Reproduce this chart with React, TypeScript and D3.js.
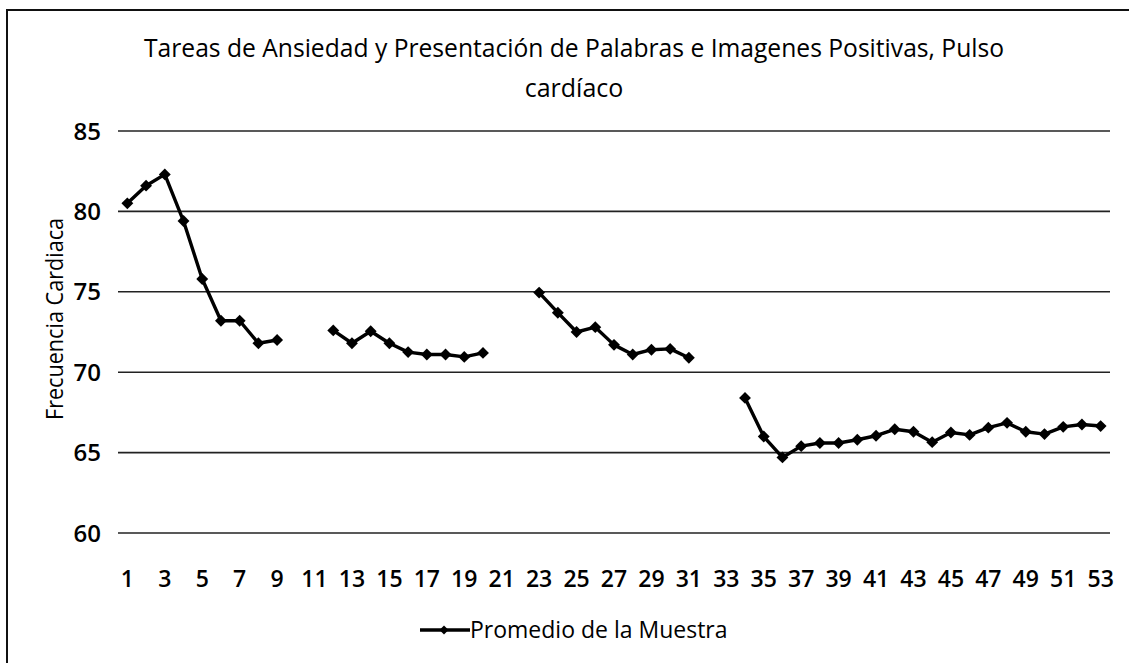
import * as d3 from "d3";

// muestras 1..53, null = sin dato (huecos entre tareas)
const categories: number[] = d3.range(1, 54);
const values: (number | null)[] = [
  80.5, 81.6, 82.3, 79.4, 75.8, 73.2, 73.2, 71.8, 72.0, null,
  null, 72.6, 71.8, 72.55, 71.8, 71.25, 71.1, 71.1, 70.95, 71.2,
  null, null, 74.95, 73.7, 72.5, 72.8, 71.7, 71.1, 71.4, 71.45,
  70.9, null, null, 68.4, 66.0, 64.7, 65.4, 65.6, 65.6, 65.8,
  66.05, 66.45, 66.3, 65.65, 66.25, 66.1, 66.55, 66.85, 66.3, 66.15,
  66.6, 66.75, 66.65,
];
const yTicks = [60, 65, 70, 75, 80, 85];
const xTickLabels = categories.filter((c) => c % 2 === 1);

const title1 = "Tareas de Ansiedad y Presentación de Palabras e Imagenes Positivas, Pulso";
const title2 = "cardíaco";
const yTitle = "Frecuencia Cardiaca";
const seriesName = "Promedio de la Muestra";

const W = 1129;
const H = 663;
const FONT = "'Open Sans', 'Noto Sans', sans-serif";

export default function App() {
  const x = d3
    .scaleBand<number>()
    .domain(categories)
    .range([118, 1110]);
  const y = d3.scaleLinear().domain([60, 85]).range([533, 131]);
  const cx = (c: number) => (x(c) ?? 0) + x.bandwidth() / 2;

  const pts = categories.map((c, i) => ({ c, v: values[i] }));
  const line = d3
    .line<{ c: number; v: number | null }>()
    .defined((d) => d.v !== null)
    .x((d) => cx(d.c))
    .y((d) => y(d.v as number));
  const diamond = d3.symbol(d3.symbolDiamond2, 90)() as string;

  return (
    <svg
      width={W}
      height={H}
      style={{ position: "absolute", left: 0, top: 0, background: "#fff" }}
    >
      <rect x={7} y={10} width={1140} height={700} fill="#fff" stroke="#111" strokeWidth={2} />
      <text
        x={574}
        y={57}
        textAnchor="middle"
        fontFamily={FONT}
        fontSize={25}
        fontWeight={500}
        textLength={860}
        lengthAdjust="spacingAndGlyphs"
        fill="#000"
      >
        {title1}
      </text>
      <text x={574} y={97} textAnchor="middle" fontFamily={FONT} fontSize={25} fontWeight={500} fill="#000">
        {title2}
      </text>

      {yTicks.map((t) => (
        <g key={t}>
          <line x1={118} x2={1110} y1={y(t)} y2={y(t)} stroke="#222" strokeWidth={1.6} />
          <text
            x={101}
            y={y(t)}
            dy="0.36em"
            textAnchor="end"
            fontFamily={FONT}
            fontWeight={600}
            fontSize={24}
            fill="#000"
          >
            {t}
          </text>
        </g>
      ))}

      {xTickLabels.map((c) => (
        <text
          key={c}
          x={cx(c)}
          y={587}
          textAnchor="middle"
          fontFamily={FONT}
          fontWeight={600}
          fontSize={23}
          fill="#000"
        >
          {c}
        </text>
      ))}

      <text
        transform={`translate(63, 319) rotate(-90)`}
        textAnchor="middle"
        fontFamily={FONT}
        fontSize={23}
        fontWeight={500}
        textLength={202}
        lengthAdjust="spacingAndGlyphs"
        fill="#000"
      >
        {yTitle}
      </text>

      <path d={line(pts) ?? ""} fill="none" stroke="#000" strokeWidth={3.4} strokeLinejoin="round" />
      {pts
        .filter((d) => d.v !== null)
        .map((d) => (
          <path
            key={d.c}
            d={diamond}
            transform={`translate(${cx(d.c)},${y(d.v as number)})`}
            fill="#000"
          />
        ))}

      <g transform="translate(420, 630)">
        <line x1={0} x2={50} y1={0} y2={0} stroke="#000" strokeWidth={3.4} />
        <path d={diamond} transform="translate(24,0) scale(0.75)" fill="#000" />
        <text x={50} y={0} dy="0.36em" fontFamily={FONT} fontSize={23} fontWeight={500} fill="#000">
          {seriesName}
        </text>
      </g>
    </svg>
  );
}
